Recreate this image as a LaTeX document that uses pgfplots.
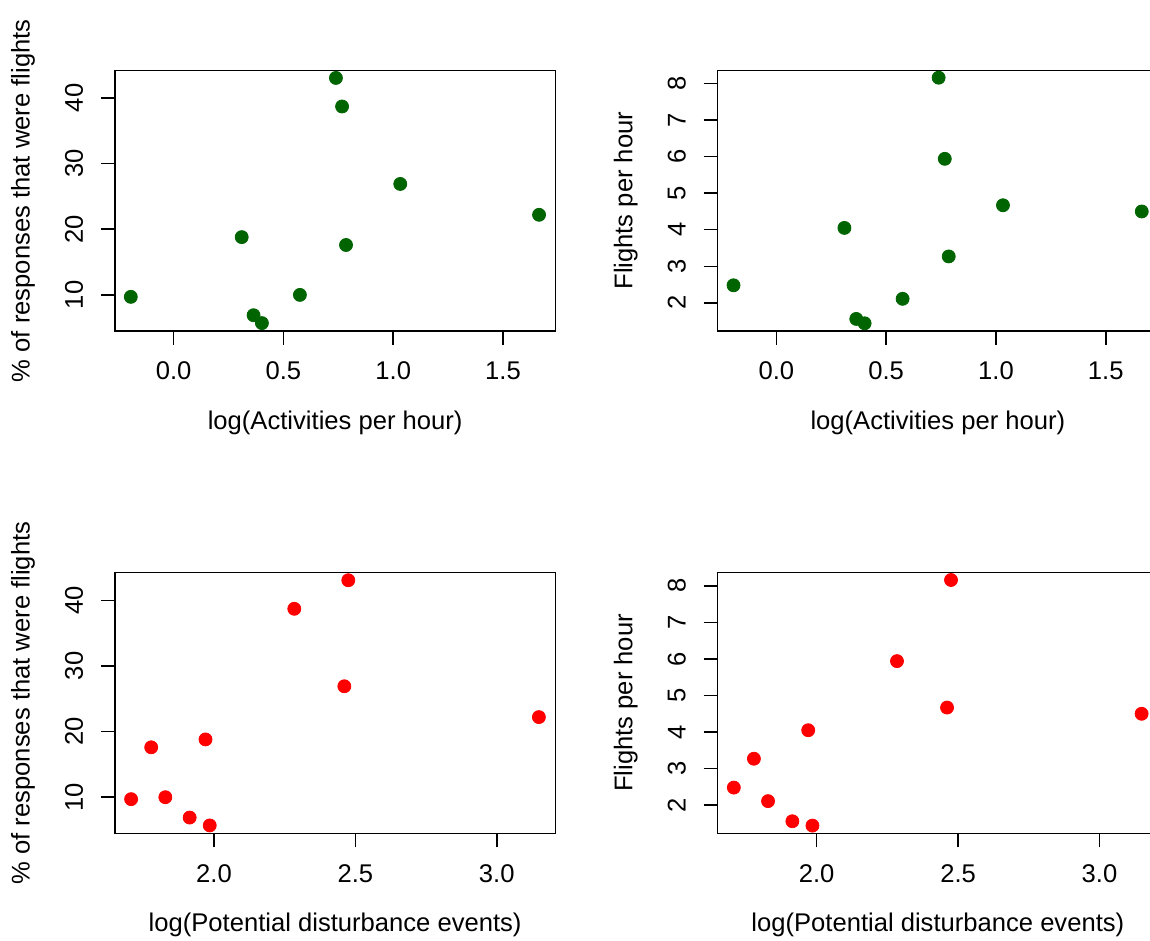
\documentclass[border=0pt]{standalone}
\usepackage{fontspec}
\setmainfont{Liberation Sans}
\usepackage{pgfplots}
\usepackage{pgfplotstable}
\pgfplotsset{compat=1.18}

\pgfplotstableread{
act    pde    pct    fl
-0.195 1.707  9.7   2.48
0.739  2.475  43.05 8.16
0.767  2.284  38.7  5.94
1.032  2.461  26.9  4.67
1.664  3.149  22.2  4.50
0.310  1.970  18.8  4.05
0.785  1.778  17.6  3.27
0.575  1.828  10.0  2.11
0.364  1.914  6.9   1.56
0.402  1.985  5.7   1.44
}\datatable

\definecolor{rgreen}{HTML}{006400}
\definecolor{rred}{HTML}{FF0000}

\pgfplotsset{
  rpanel/.style={
    scale only axis,
    width=220.15pt, height=130.3pt,
    anchor=south west,
    axis line style={line width=0.75pt, black},
    every tick/.style={line width=0.75pt, black},
    tick align=outside,
    major tick length=7pt,
    xtick pos=bottom, ytick pos=left,
    clip=false,
    /pgf/number format/assume math mode=true,
    tick label style={font=\fontsize{12.8pt}{15pt}\selectfont, text=black},
    label style={font=\fontsize{12.8pt}{15pt}\selectfont, text=black},
    xticklabel style={anchor=center},
    xticklabel shift=13pt,
    yticklabel style={rotate=90, anchor=center},
    yticklabel shift=13.5pt,
    xlabel style={at={([yshift=-46pt]axis description cs:0.5,0)}, anchor=center},
    ylabel style={at={([xshift=-46pt]axis description cs:0,0.5)}, anchor=center, rotate=0},
    xticklabel={\pgfmathprintnumber[fixed,fixed zerofill,precision=1]{\tick}},
  },
  pctaxis/.style={ymin=4.5, ymax=44.2, ytick={10,20,30,40}, ylabel={\% of responses that were flights}},
  flaxis/.style={ymin=1.23, ymax=8.36, ytick={2,3,4,5,6,7,8}, ylabel={Flights per hour}},
  actaxis/.style={xmin=-0.267, xmax=1.738, xtick={0,0.5,1,1.5}, xlabel={log(Activities per hour)}},
  pdeaxis/.style={xmin=1.650, xmax=3.207, xtick={2,2.5,3}, xlabel={log(Potential disturbance events)}},
  gmark/.style={only marks, mark=*, mark size=3.25pt, color=rgreen, mark options={fill=rgreen, draw=rgreen}},
  rmark/.style={only marks, mark=*, mark size=3.25pt, color=rred, mark options={fill=rred, draw=rred}},
}

\begin{document}
\begin{tikzpicture}
\begin{axis}[rpanel, pctaxis, actaxis, at={(57.5pt,305pt)}]
  \addplot[gmark] table[x=act, y=pct] {\datatable};
\end{axis}
\begin{axis}[rpanel, flaxis, actaxis, at={(358.85pt,305pt)}]
  \addplot[gmark] table[x=act, y=fl] {\datatable};
\end{axis}
\begin{axis}[rpanel, pctaxis, pdeaxis, at={(57.5pt,53.85pt)}]
  \addplot[rmark] table[x=pde, y=pct] {\datatable};
\end{axis}
\begin{axis}[rpanel, flaxis, pdeaxis, at={(358.85pt,53.85pt)}]
  \addplot[rmark] table[x=pde, y=fl] {\datatable};
\end{axis}
\pgfresetboundingbox
\useasboundingbox (0,0) rectangle (575pt,470.5pt);
\end{tikzpicture}
\end{document}
